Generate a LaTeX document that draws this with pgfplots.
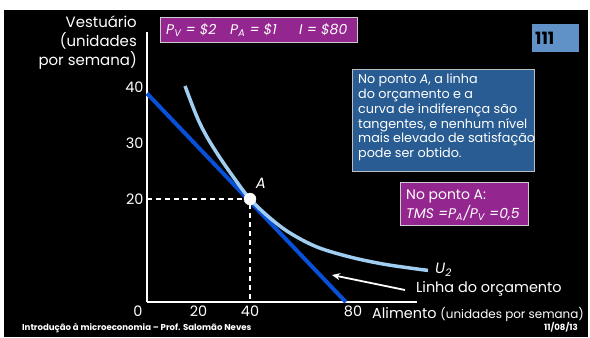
\documentclass[border=0pt]{standalone}
\usepackage{fontspec}
\setmainfont{Poppins}
\usepackage{pgfplots}
\pgfplotsset{compat=1.18}
\usetikzlibrary{arrows.meta}
\definecolor{purp}{RGB}{148,38,143}
\definecolor{boxblue}{RGB}{40,92,146}
\definecolor{numblue}{RGB}{96,146,200}
\definecolor{budget}{RGB}{8,80,215}
\definecolor{indiff}{RGB}{160,205,240}
\newcommand{\fs}[2]{\fontsize{#1}{#2}\selectfont}
\begin{document}
\begin{tikzpicture}
\begin{scope}[x=1bp,y=-1bp]
\path[use as bounding box] (0,0) rectangle (590,337);
\fill[white] (0,0) rectangle (590,337);
\fill[black] (4,10) rectangle (588,337);
\end{scope}
\begin{axis}[
  at={(147bp,-302bp)}, anchor=south west,
  x=2.575bp, y=5.15bp,
  xmin=0, xmax=104.85, ymin=0, ymax=52.4,
  axis lines=left,
  axis line style={white, line width=1.3bp, -},
  xtick={0,20,40,80}, xticklabels={\makebox[0pt]{0\hspace{18bp}},20,40,80},
  ytick={20,30.9,41.7}, yticklabels={20,30,40},
  major tick length=0pt,
  tick label style={white, font=\fs{14.5}{15}},
  clip=false,
]
\addplot[budget, line width=4bp] coordinates {(0,40.5) (77.2,0)};
\addplot[indiff, line width=3.5bp, smooth, tension=0.55] coordinates {
(14.76,41.94) (19.42,35.92) (23.30,32.04) (28.35,28.0)
(34,23.95) (40,20) (47.77,16.31) (55.53,13.40)
(66.02,10.68) (78.83,8.74) (91.65,7.38) (104.85,6.41) (109.1,6.15)};
\addplot[white, line width=1.3bp, dash pattern=on 5bp off 4bp] coordinates {(0,20) (40,20) (40,0)};
\addplot[only marks, mark=*, mark size=6bp, white] coordinates {(40,20)};
\end{axis}
\begin{scope}[x=1bp,y=-1bp]
% y label
\node[anchor=east, align=right, white, font=\fs{15}{19}, inner sep=0] at (137,43) {Vestuário\\(unidades\\por semana)};
% purple box 1
\node[fill=purp, draw=gray!40, line width=0.8bp, minimum width=197bp, minimum height=25bp, anchor=north west, inner sep=0] at (160,17) {};
\node[anchor=west, white, font=\fs{14}{14}\itshape, inner sep=0] at (166,30) {P\textsubscript{V} = \$2};
\node[anchor=west, white, font=\fs{14}{14}\itshape, inner sep=0] at (230,30) {P\textsubscript{A} = \$1};
\node[anchor=west, white, font=\fs{14}{14}\itshape, inner sep=0] at (299,30) {I = \$80};
% 111 box
\node[fill=numblue, minimum width=47bp, minimum height=28bp, anchor=north west, inner sep=0] at (532,24) {};
\node[anchor=west, black, font=\fs{17}{17}\bfseries, inner sep=0] at (535,38) {111};
% blue text box
\node[fill=boxblue, draw=gray!50, line width=0.8bp, minimum width=182bp, minimum height=102bp, anchor=north west, inner sep=0] at (352,69) {};
\node[anchor=north west, align=left, white, font=\fs{12.8}{14.8}, inner sep=0] at (358,74) {No ponto \textit{A}, a linha\\do orçamento e a\\curva de indiferença são\\tangentes, e nenhum nível\\mais elevado de satisfação\\pode ser obtido.};
% purple box 2
\node[fill=purp, draw=gray!40, line width=0.8bp, minimum width=128bp, minimum height=43bp, anchor=north west, inner sep=0] at (400,182) {};
\node[anchor=west, white, font=\fs{14}{14}, inner sep=0] at (406,196) {No ponto A:};
\node[anchor=west, white, font=\fs{14}{14}\itshape, inner sep=0] at (406,213) {TMS =P\textsubscript{A}/P\textsubscript{V} =0,5};
% labels
\node[white, font=\fs{15}{15}\itshape, inner sep=0] at (261,183) {A};
\node[anchor=west, white, font=\fs{15}{15}\itshape, inner sep=0] at (435,270) {U\textsubscript{2}};
\node[anchor=west, white, font=\fs{14.5}{15}, inner sep=0] at (416,289) {Linha do orçamento};
\draw[white, line width=1.8bp, -{Stealth[length=8bp,width=7bp]}] (405,290) -- (332,275);
\node[anchor=west, white, inner sep=0] at (372,314) {\fs{14.5}{15}Alimento \fs{12}{15}(unidades por semana)};
% footer
\node[anchor=west, white, font=\fs{8.6}{9}\bfseries, inner sep=0] at (22,328) {Introdução à microeconomia – Prof. Salomão Neves};
\node[anchor=east, white, font=\fs{8.6}{9}\bfseries, inner sep=0] at (578,327) {11/08/13};
\end{scope}
\end{tikzpicture}
\end{document}
